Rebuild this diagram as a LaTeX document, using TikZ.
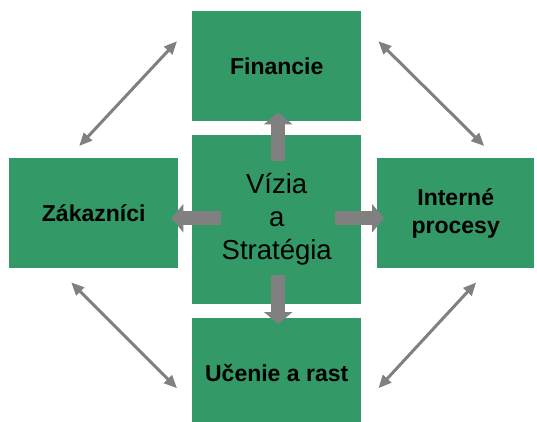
\documentclass[tikz,border=0pt]{standalone}
\usepackage{fontspec}
\setmainfont{Liberation Sans}
\usetikzlibrary{arrows.meta,calc}
\definecolor{bscgreen}{RGB}{51,153,102}
\definecolor{bscgray}{RGB}{128,128,128}
\tikzset{
  persp/.style={fill=bscgreen, inner sep=0pt, anchor=north west, minimum width=169pt, minimum height=110pt,
    align=center, font=\fontsize{23}{27.6}\selectfont\bfseries},
  blockarrow/.style={draw=bscgray, line width=14pt, -{Triangle[width=28pt,length=12pt]}},
  linkarrow/.style={draw=bscgray, line width=3pt, {Triangle[width=11pt,length=13pt]}-{Triangle[width=11pt,length=13pt]}}
}
\begin{document}
\begin{tikzpicture}[x=1pt,y=-1pt]
\useasboundingbox (0,0) rectangle (537,421);
% the five boxes
\node [persp] (financie) at (192,11) {Financie};
\node [persp, minimum height=169pt, font=\fontsize{27.5}{33}\selectfont] (vizia) at (192,135)%
  {V\'izia\\a\\Strat\'egia};
\node [persp] (zakaznici) at (9,158) {Z\'akazn\'ici};
\node [persp, minimum width=157pt] (interne) at (377,158) {Intern\'e\\procesy};
\node [persp] (ucenie) at (192,318) {U\v{c}enie a rast};
% from the centre out
\draw [blockarrow] ([xshift=1.5pt,yshift=-26pt]vizia.north) -- ([xshift=1.5pt,yshift=9pt]financie.south);
\draw [blockarrow] ([xshift=29pt,yshift=1.5pt]vizia.west) -- ([xshift=-7pt,yshift=-5pt]zakaznici.east);
\draw [blockarrow] ([xshift=-26pt,yshift=1.5pt]vizia.east) -- ([xshift=7pt,yshift=-5pt]interne.west);
\draw [blockarrow] ([xshift=1.5pt,yshift=29pt]vizia.south) -- ([xshift=1.5pt,yshift=-6pt]ucenie.north);
% links between the perspectives
\draw [linkarrow] ($(zakaznici.north)+(-14.5,-12)$) -- ($(financie.west)+(-15,-25)$);
\draw [linkarrow] ($(financie.east)+(17,-25)$) -- ($(interne.north)+(28.5,-12)$);
\draw [linkarrow] ($(zakaznici.south)+(-22.5,14)$) -- ($(ucenie.west)+(-15,15)$);
\draw [linkarrow] ($(interne.south)+(20.5,14)$) -- ($(ucenie.east)+(17,15)$);
\end{tikzpicture}
\end{document}
